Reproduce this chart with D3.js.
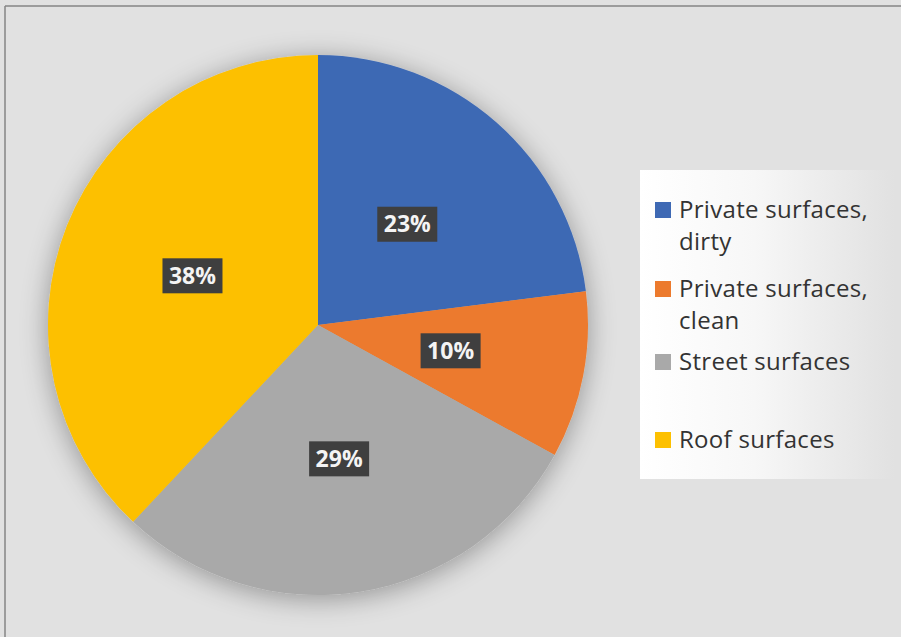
<!DOCTYPE html>
<html>
<head>
<meta charset="utf-8">
<script src="https://cdn.jsdelivr.net/npm/d3@7"></script>
<style>
  body { margin: 0; background: #e0e0e0; }
  svg { display: block; }
</style>
</head>
<body>
<div id="chart"></div>
<script>
// chart data
const categories = ["Private surfaces, dirty", "Private surfaces, clean", "Street surfaces", "Roof surfaces"];
const shares = [23, 10, 29, 38];
const colours = ["#3e69b4", "#ec7a2d", "#a9a9a9", "#fdc000"];
// legend lines (wrapped like the original)
const legendLines = [["Private surfaces,", "dirty"], ["Private surfaces,", "clean"], ["Street surfaces"], ["Roof surfaces"]];

const WIDTH = 901, HEIGHT = 637;
const CX = 318, CY = 325, RADIUS = 270;

const svg = d3.select("#chart").append("svg")
  .attr("width", WIDTH)
  .attr("height", HEIGHT);

const defs = svg.append("defs");

// soft shadow round the pie
const shadow = defs.append("filter").attr("id", "shadow")
  .attr("x", "-30%").attr("y", "-30%").attr("width", "160%").attr("height", "160%");
shadow.append("feGaussianBlur").attr("in", "SourceAlpha").attr("stdDeviation", 14).attr("result", "blur");
shadow.append("feOffset").attr("dx", 0).attr("dy", 4).attr("result", "off");
shadow.append("feComponentTransfer").append("feFuncA").attr("type", "linear").attr("slope", 0.35);
const merge = shadow.append("feMerge");
merge.append("feMergeNode");
merge.append("feMergeNode").attr("in", "SourceGraphic");

// legend box fades from white to grey
const grad = defs.append("linearGradient").attr("id", "legendGrad")
  .attr("x1", "0%").attr("x2", "100%");
grad.append("stop").attr("offset", "0%").attr("stop-color", "#ffffff");
grad.append("stop").attr("offset", "45%").attr("stop-color", "#f7f7f7");
grad.append("stop").attr("offset", "100%").attr("stop-color", "#e1e1e1");

// background and frame
svg.append("rect")
  .attr("x", 0).attr("y", 0).attr("width", WIDTH).attr("height", HEIGHT)
  .attr("fill", "#e1e1e1");
svg.append("line").attr("x1", 5).attr("x2", WIDTH).attr("y1", 6).attr("y2", 6)
  .attr("stroke", "#858585").attr("stroke-width", 1.5);
svg.append("line").attr("x1", 5).attr("x2", 5).attr("y1", 6).attr("y2", HEIGHT)
  .attr("stroke", "#858585").attr("stroke-width", 1.5);

// pie
const pie = d3.pie().sort(null).value(d => d);
const arc = d3.arc().innerRadius(0).outerRadius(RADIUS);
const labelArc = d3.arc().innerRadius(RADIUS * 0.5).outerRadius(RADIUS * 0.5);
const colour = d3.scaleOrdinal().domain(categories).range(colours);

const arcs = pie(shares);

const g = svg.append("g")
  .attr("transform", "translate(" + CX + "," + CY + ")");

g.append("g").attr("filter", "url(#shadow)")
  .selectAll("path")
  .data(arcs)
  .enter()
  .append("path")
    .attr("d", arc)
    .attr("fill", (d, i) => colour(categories[i]));

// data labels: dark boxes with white bold text
const labels = g.selectAll(".lbl")
  .data(arcs)
  .enter()
  .append("g")
    .attr("class", "lbl")
    .attr("transform", d => "translate(" + labelArc.centroid(d) + ")");

labels.append("rect")
  .attr("x", -30).attr("y", -17)
  .attr("width", 60).attr("height", 35)
  .attr("fill", "#3f3f3f");

labels.append("text")
  .attr("text-anchor", "middle")
  .attr("dy", "0.36em")
  .attr("fill", "#f4f4f4")
  .attr("font-family", "'Open Sans', sans-serif")
  .attr("font-weight", "bold")
  .attr("font-size", 23)
  .text(d => d.data + "%");

// legend
const legend = svg.append("g");
legend.append("rect")
  .attr("x", 640).attr("y", 170)
  .attr("width", 255).attr("height", 309)
  .attr("fill", "url(#legendGrad)");

const legendY = [210, 289, 362, 440];
const items = legend.selectAll(".item")
  .data(categories)
  .enter()
  .append("g")
    .attr("class", "item")
    .attr("transform", (d, i) => "translate(655," + legendY[i] + ")");

items.append("rect")
  .attr("x", 0).attr("y", -8)
  .attr("width", 16).attr("height", 16)
  .attr("fill", d => colour(d));

items.append("text")
  .attr("x", 24)
  .attr("y", 0)
  .attr("fill", "#333333")
  .attr("font-family", "'Open Sans', sans-serif")
  .attr("font-size", 24)
  .attr("letter-spacing", 0.3)
  .selectAll("tspan")
  .data((d, i) => legendLines[i])
  .enter()
  .append("tspan")
    .attr("x", 24)
    .attr("dy", (d, j) => j === 0 ? "0.35em" : "1.3em")
    .text(d => d);
</script>
</body>
</html>
